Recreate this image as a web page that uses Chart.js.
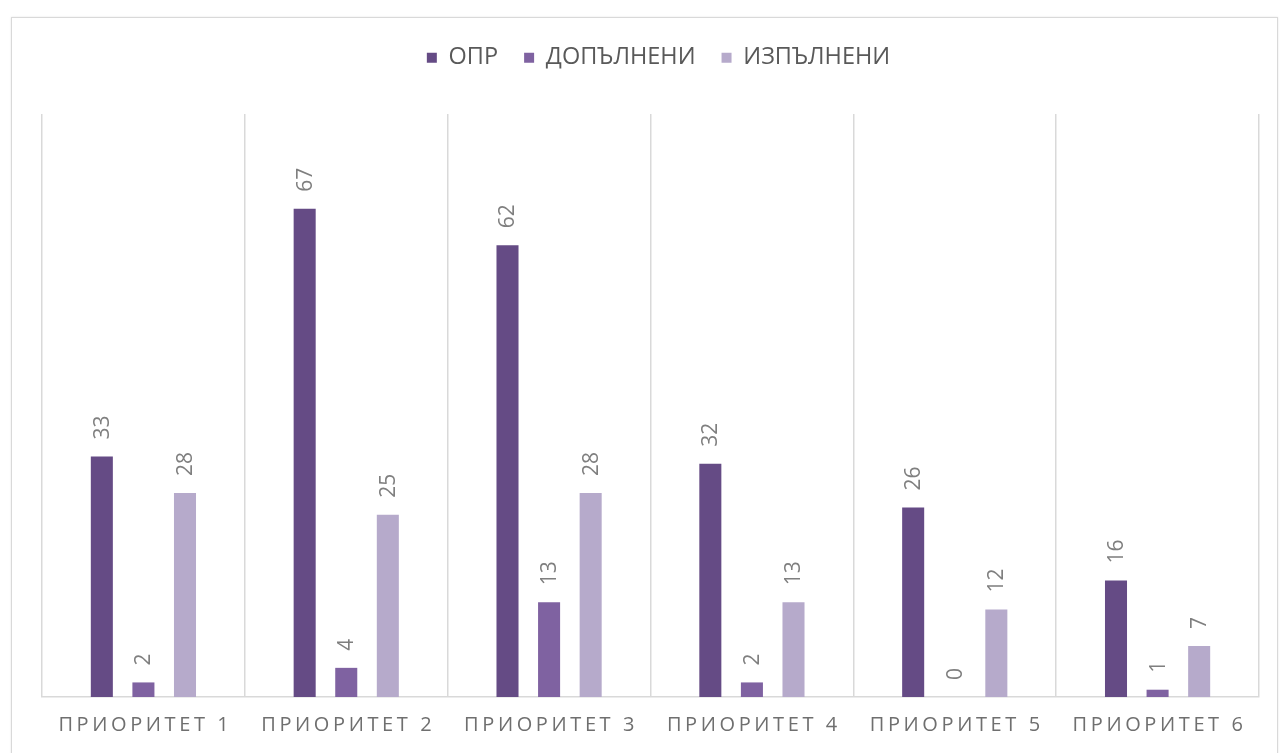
<!DOCTYPE html>
<html>
<head>
<meta charset="utf-8">
<script src="https://cdn.jsdelivr.net/npm/chart.js@4.4.1/dist/chart.umd.min.js"></script>
<style>
    html, body { margin: 0; padding: 0; background: #ffffff; overflow: hidden; }
    #frame {
        position: absolute; left: 11px; top: 17px; width: 1265px; height: 760px;
        border: 1px solid #d9d9d9; box-shadow: 0 0 2px #e6e6e6;
    }
    #box { position: absolute; left: 12px; top: 18px; width: 1265px; height: 735px; }
</style>
</head>
<body>
<div id="frame"></div>
<div id="box"><canvas id="priorityChart"></canvas></div>
<script>
const categories = ['ПРИОРИТЕТ 1', 'ПРИОРИТЕТ 2', 'ПРИОРИТЕТ 3', 'ПРИОРИТЕТ 4', 'ПРИОРИТЕТ 5', 'ПРИОРИТЕТ 6'];
const seriesNames = ['ОПР', 'ДОПЪЛНЕНИ', 'ИЗПЪЛНЕНИ'];
const oprValues = [33, 67, 62, 32, 26, 16];
const addedValues = [2, 4, 13, 2, 0, 1];
const doneValues = [28, 25, 28, 13, 12, 7];
const seriesColors = ['#654b85', '#7f62a1', '#b6aacb'];

const FONT = '"Open Sans", sans-serif';

// етикети над стълбовете, завъртени на 90 градуса
const barLabels = {
    id: 'barLabels',
    afterDatasetsDraw(chart) {
        const ctx = chart.ctx;
        ctx.save();
        ctx.font = '21px ' + FONT;
        ctx.fillStyle = '#7f7f7f';
        ctx.textAlign = 'left';
        ctx.textBaseline = 'middle';
        chart.data.datasets.forEach((ds, i) => {
            chart.getDatasetMeta(i).data.forEach((bar, j) => {
                ctx.save();
                ctx.translate(bar.x + 1, bar.y - 17);
                ctx.rotate(-Math.PI / 2);
                ctx.fillText(String(ds.data[j]), 0, 0);
                ctx.restore();
            });
        });
        ctx.restore();
    }
};

// надписите по оста X с разредени букви
const spacedTicks = {
    id: 'spacedTicks',
    afterDraw(chart) {
        const ctx = chart.ctx;
        const xScale = chart.scales.x;
        ctx.save();
        ctx.font = '20px ' + FONT;
        ctx.letterSpacing = '3.6px';
        ctx.fillStyle = '#6f6f6f';
        ctx.textAlign = 'center';
        ctx.textBaseline = 'middle';
        categories.forEach((label, i) => {
            ctx.fillText(label, xScale.getPixelForValue(i) + 2, chart.chartArea.bottom + 28);
        });
        ctx.restore();
    }
};

// повече място под легендата, леко изместена надясно
const legendSpace = {
    id: 'legendSpace',
    beforeInit(chart) {
        const legend = chart.legend;
        const fit = legend.fit;
        const draw = legend.draw;
        legend.fit = function () {
            fit.call(this);
            this.height = 94;
        };
        legend.draw = function () {
            this.ctx.save();
            this.ctx.translate(8, 0);
            draw.call(this);
            this.ctx.restore();
        };
    }
};

new Chart(document.getElementById('priorityChart'), {
    type: 'bar',
    data: {
        labels: categories,
        datasets: [
            { label: seriesNames[0], data: oprValues, backgroundColor: seriesColors[0] },
            { label: seriesNames[1], data: addedValues, backgroundColor: seriesColors[1] },
            { label: seriesNames[2], data: doneValues, backgroundColor: seriesColors[2] }
        ]
    },
    options: {
        responsive: true,
        maintainAspectRatio: false,
        animation: false,
        datasets: {
            bar: {
                categoryPercentage: 0.615,
                barPercentage: 0.53
            }
        },
        layout: {
            padding: { left: 30, right: 18, top: 2, bottom: 56 }
        },
        plugins: {
            legend: {
                position: 'top',
                labels: {
                    boxWidth: 10,
                    boxHeight: 10,
                    padding: 26,
                    color: '#595959',
                    font: { family: FONT, size: 23.5 }
                }
            },
            tooltip: { enabled: false }
        },
        scales: {
            x: {
                grid: {
                    color: '#d9d9d9',
                    lineWidth: 1.5,
                    drawTicks: false
                },
                border: { color: '#d9d9d9', width: 1.5 },
                ticks: { display: false }
            },
            y: {
                display: false,
                min: 0,
                max: 80
            }
        }
    },
    plugins: [barLabels, spacedTicks, legendSpace]
});
</script>
</body>
</html>
